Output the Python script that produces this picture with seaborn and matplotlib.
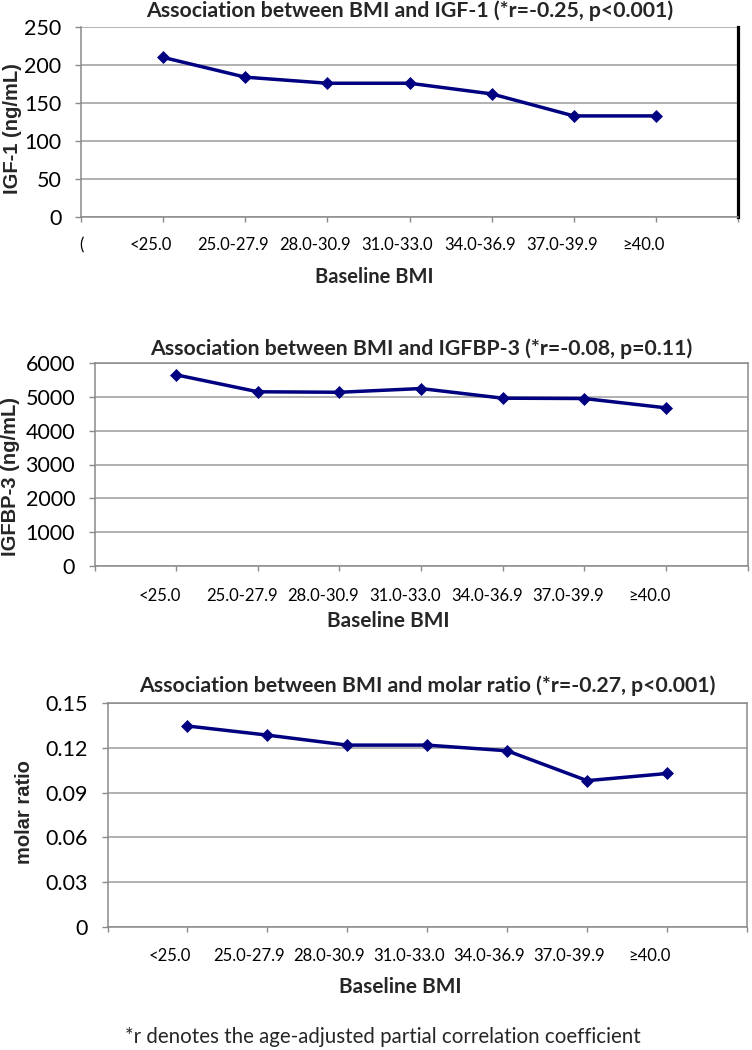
import numpy as np
import pandas as pd
import matplotlib
matplotlib.use("Agg")
import matplotlib.pyplot as plt
import matplotlib.transforms as mtransforms
import seaborn as sns

# values
bmi_groups = ["<25.0", "25.0-27.9", "28.0-30.9", "31.0-33.0", "34.0-36.9", "37.0-39.9", "≥40.0"]
igf1 = [210, 184, 176, 176, 162, 133, 133]
igfbp3 = [5650, 5150, 5135, 5245, 4960, 4950, 4675]
molar_ratio = [0.1346, 0.1285, 0.1218, 0.1218, 0.118, 0.098, 0.1028]

igf1_ticks = [0, 50, 100, 150, 200, 250]
igfbp3_ticks = [0, 1000, 2000, 3000, 4000, 5000, 6000]
ratio_ticks = [0, 0.03, 0.06, 0.09, 0.12, 0.15]
ratio_tick_labels = ["0", "0.03", "0.06", "0.09", "0.12", "0.15"]

titles = [
    "Association between BMI and IGF-1 (*r=-0.25, p<0.001)",
    "Association between BMI and IGFBP-3 (*r=-0.08, p=0.11)",
    "Association between BMI and molar ratio (*r=-0.27, p<0.001)",
]
ylabels = ["IGF-1 (ng/mL)", "IGFBP-3 (ng/mL)", "molar ratio"]
xlabel = "Baseline BMI"
footnote = "*r denotes the age-adjusted partial correlation coefficient"

W, H = 752, 1050
LINE = "#000080"
GRID = "#9c9c9c"
SPINE = "#8a8a8a"


def fx(px):
    return px / W


def fy(py):
    return 1 - py / H


# pixel layout of each panel: left, top, right, bottom of the plot box
layout = [
    dict(box=(81, 27, 738, 217), title_pad=7.2, xlab=(374, 283), xlab_size=14.5,
         ylab=(13, 129), xoff=-12, xpad=10.5, first="("),
    dict(box=(94.5, 363, 747.5, 566), title_pad=6.0, xlab=(388, 627), xlab_size=15,
         ylab=(11, 477), xoff=-16, xpad=12.0, first=""),
    dict(box=(107.5, 703, 747, 927), title_pad=8.1, xlab=(400, 993), xlab_size=15,
         ylab=(25, 812), xoff=-18, xpad=11.0, first=""),
]

sns.set_theme(style="white")
plt.rcParams["font.family"] = ["Lato", "DejaVu Sans"]

fig = plt.figure(figsize=(W / 100, H / 100), dpi=100)

series = [igf1, igfbp3, molar_ratio]
yticks = [igf1_ticks, igfbp3_ticks, ratio_ticks]
yticklabels = [[str(t) for t in igf1_ticks], [str(t) for t in igfbp3_ticks], ratio_tick_labels]

for i, lay in enumerate(layout):
    l, t, r, b = lay["box"]
    ax = fig.add_axes([fx(l), fy(b), fx(r - l), (b - t) / H])

    df = pd.DataFrame({"pos": np.arange(1, len(bmi_groups) + 1), "value": series[i]})
    sns.lineplot(data=df, x="pos", y="value", ax=ax, color=LINE, linewidth=2.5,
                 marker="D", markersize=6.5, markeredgecolor=LINE,
                 markerfacecolor=LINE, markeredgewidth=0.5, legend=False)

    ax.set_xlim(0, len(bmi_groups) + 1)
    ax.set_ylim(yticks[i][0], yticks[i][-1])
    ax.set_xticks(range(0, len(bmi_groups) + 2))
    ax.set_xticklabels([lay["first"]] + bmi_groups + [""])
    ax.set_yticks(yticks[i])
    ax.set_yticklabels(yticklabels[i])

    ax.yaxis.grid(True, color=GRID, linewidth=1.1)
    ax.xaxis.grid(False)
    ax.set_axisbelow(True)

    ax.tick_params(axis="x", bottom=True, length=3.8, width=1, color=SPINE,
                   pad=lay["xpad"], labelsize=12, labelcolor="black")
    ax.tick_params(axis="y", left=True, length=4.5, width=1, color=SPINE,
                   pad=9.5, labelsize=15.5, labelcolor="black")

    for side in ["left", "bottom", "top", "right"]:
        ax.spines[side].set_color(SPINE)
        ax.spines[side].set_linewidth(1.1)
    if i == 0:
        ax.spines["top"].set_visible(False)
        ax.spines["right"].set_color("black")
        ax.spines["right"].set_linewidth(2.3)

    shift = mtransforms.ScaledTranslation(lay["xoff"] / 100, 0, fig.dpi_scale_trans)
    for lab in ax.get_xticklabels()[1:]:
        lab.set_transform(lab.get_transform() + shift)

    ax.set_title(titles[i], fontsize=15.3, fontweight="bold", pad=lay["title_pad"])

    ax.set_xlabel(xlabel, fontsize=lay["xlab_size"], fontweight="bold", va="baseline")
    ax.xaxis.set_label_coords(fx(lay["xlab"][0]), fy(lay["xlab"][1]), transform=fig.transFigure)

    ax.set_ylabel(ylabels[i], fontsize=14.5, fontweight="bold", va="center",
                  family=["Liberation Sans", "DejaVu Sans"])
    ax.yaxis.set_label_coords(fx(lay["ylab"][0]), fy(lay["ylab"][1]), transform=fig.transFigure)

fig.text(fx(383), fy(1043), footnote, ha="center", va="baseline", fontsize=14.8)

fig.savefig("out.png", dpi=100, facecolor="white")
